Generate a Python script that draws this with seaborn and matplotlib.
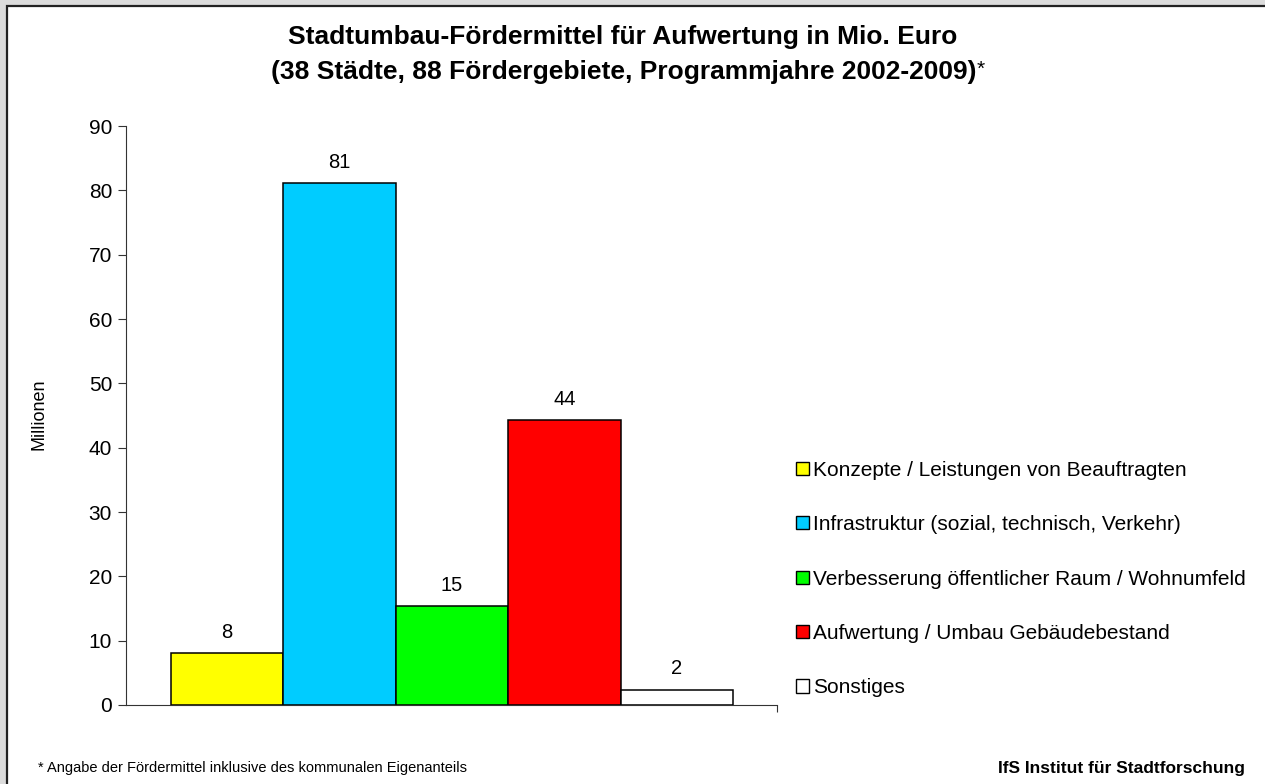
# Stadtumbau-Fördermittel chart, recreated with seaborn
import matplotlib
matplotlib.use("Agg")
import matplotlib.pyplot as plt
from matplotlib.patches import Rectangle
import pandas as pd
import seaborn as sns

# %% Data
categories = ["Konzepte / Leistungen von Beauftragten",
              "Infrastruktur (sozial, technisch, Verkehr)",
              "Verbesserung öffentlicher Raum / Wohnumfeld",
              "Aufwertung / Umbau Gebäudebestand",
              "Sonstiges"]
values = [8.1, 81.1, 15.4, 44.3, 2.4]  # Mio. Euro
colours = ["#FFFF00", "#00CCFF", "#00FF00", "#FF0000", "#FFFFFF"]
y_ticks = [0, 10, 20, 30, 40, 50, 60, 70, 80, 90]

df = pd.DataFrame({"Gruppe": ["alle"] * len(categories),
                   "Bereich": categories,
                   "Wert": values})

# %% Plot
sns.set_style("ticks")
plt.rcParams["font.family"] = ["Liberation Sans", "DejaVu Sans"]
plt.rcParams["text.color"] = "black"
plt.rcParams["axes.labelcolor"] = "black"
plt.rcParams["xtick.color"] = "black"
plt.rcParams["ytick.color"] = "black"

W, H = 1265, 784
fig = plt.figure(figsize=(W / 100, H / 100), dpi=100, facecolor="#DCDCDC")
# white chart panel with dark border
fig.patches.append(Rectangle((7 / W, -0.05), 1.1, 1 - 6 / H + 0.05, transform=fig.transFigure,
                             facecolor="white", edgecolor="#222222", linewidth=1.6, zorder=-10))
ax = fig.add_axes([126 / W, 1 - 705 / H, 651 / W, 579 / H])
ax.set_facecolor("none")

sns.barplot(data=df, x="Gruppe", y="Wert", hue="Bereich", hue_order=categories,
            palette=colours, edgecolor="black", linewidth=1.1, saturation=1,
            width=0.8, ax=ax)

for cont in ax.containers:
    ax.bar_label(cont, fmt="%.0f", padding=8, fontsize=14.5)

ax.set_ylim(0, 90)
ax.set_yticks(y_ticks)
ax.tick_params(axis="y", labelsize=15, length=6, width=0.8, color="#333333", pad=4)
ax.set_xlim(-0.4 - 45 / 702.5, 0.4 + 44 / 702.5)
ax.set_xticks([ax.get_xlim()[1]])
ax.set_xticklabels([""])
ax.tick_params(axis="x", length=5, width=0.8, color="#333333")
ax.set_xlabel("")
ax.set_ylabel("Millionen", fontsize=13)
ax.yaxis.set_label_coords(-0.121, 0.503)
for s in ["left", "bottom"]:
    ax.spines[s].set_color("#333333")
    ax.spines[s].set_linewidth(0.8)
sns.despine(ax=ax)

sns.move_legend(ax, "center left", bbox_to_anchor=(1.001, 0.2176), title=None,
                frameon=False, fontsize=15, labelspacing=1.70, handlelength=0.6,
                handleheight=0.6, handletextpad=0.2)
for h in ax.get_legend().legend_handles:
    h.set_edgecolor("black")
    h.set_linewidth(1.0)

# titles
fig.text(623 / W, 1 - 37 / H, "Stadtumbau-Fördermittel für Aufwertung in Mio. Euro",
         ha="center", va="center", fontsize=19, fontweight="bold")
t2 = fig.text(624 / W, 1 - 72 / H, "(38 Städte, 88 Fördergebiete, Programmjahre 2002-2009)",
              ha="center", va="center", fontsize=19, fontweight="bold")
ax.annotate("*", xy=(1, 1), xycoords=t2, ha="left", va="top", fontsize=15,
            annotation_clip=False)

# footers
fig.text(38 / W, 1 - 768 / H, "* Angabe der Fördermittel inklusive des kommunalen Eigenanteils",
         ha="left", va="center", fontsize=10.5)
fig.text(1245 / W, 1 - 768 / H, "IfS Institut für Stadtforschung",
         ha="right", va="center", fontsize=12.5, fontweight="bold")

fig.savefig("out.png", dpi=100, facecolor=fig.get_facecolor())
